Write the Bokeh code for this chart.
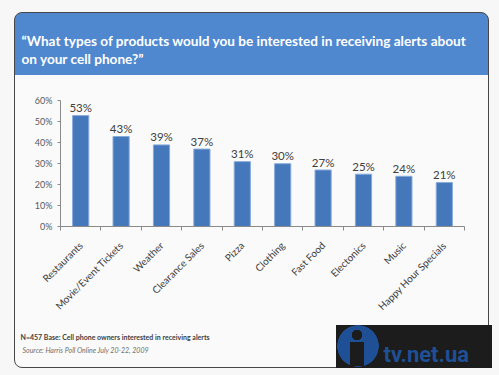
from bokeh.plotting import figure
from bokeh.models import (Range1d, FixedTicker, NumeralTickFormatter, Label, ColumnDataSource)
from bokeh.core.properties import value
from bokeh.embed import file_html
from bokeh.resources import INLINE
import math

categories = ["Restaurants", "Movie/Event Tickets", "Weather", "Clearance Sales", "Pizza",
              "Clothing", "Fast Food", "Electonics", "Music", "Happy Hour Specials"]
shares = [0.53, 0.43, 0.39, 0.37, 0.31, 0.30, 0.27, 0.25, 0.24, 0.21]
share_labels = ["53%", "43%", "39%", "37%", "31%", "30%", "27%", "25%", "24%", "21%"]
y_ticks = [0, 0.1, 0.2, 0.3, 0.4, 0.5, 0.6]
title_lines = ["\u201cWhat types of products would you be interested in receiving alerts about",
               "on your cell phone?\u201d"]
note_text = "N=457 Base: Cell phone owners interested in  receiving alerts"
source_text = "Source: Harris Poll Online July 20-22, 2009"
logo_text = "tv.net.ua"

FONT = "Lato"

centers = [i + 0.5 for i in range(len(categories))]
src = ColumnDataSource(dict(x=centers, top=shares, lab=share_labels))

p = figure(width=499, height=375, output_backend="svg", toolbar_location=None,
           x_range=Range1d(0, len(categories)), y_range=Range1d(0, 0.65),
           min_border_left=60, min_border_right=35, min_border_top=90, min_border_bottom=149,
           background_fill_alpha=0, border_fill_alpha=0, outline_line_color=None)
p.grid.visible = False

css = """
:host { isolation: isolate; background: #f7f7f7; }
:host::before {
  content: ""; position: absolute; left: 14px; top: 12px; width: 475px; height: 356px;
  box-sizing: border-box; border: 1.5px solid #474747; border-radius: 8px;
  background: linear-gradient(#4f88cf, #4f88cf) 0 0 / 100% 62px no-repeat, #fafafa;
  z-index: -1;
}
:host::after {
  content: ""; position: absolute; left: 336px; top: 325px; width: 156px; height: 43px;
  background:
    radial-gradient(circle at 21px 10px, #1c1c1c 0 5px, transparent 5.5px),
    linear-gradient(#1c1c1c, #1c1c1c) 14px 17px / 14px 24px no-repeat,
    radial-gradient(circle at 22px 21px, #1f4f94 0 20.5px, transparent 21px),
    #1c1c1c;
  z-index: -1;
}
"""
p.stylesheets = [css]

p.vbar(x="x", top="top", width=0.4, source=src, fill_color="#4577bb",
       line_color="#86aadb", line_width=1)
p.text(x="x", y="top", text="lab", source=src, text_align="center",
       text_baseline="alphabetic", y_offset=-8, text_font=value(FONT),
       text_font_size="11.5px", text_color="#404040")

ya = p.yaxis[0]
ya.ticker = FixedTicker(ticks=y_ticks)
ya.formatter = NumeralTickFormatter(format="0%")
ya.bounds = (0, 0.6)
ya.axis_line_color = "#8a8a8a"
ya.major_tick_line_color = "#8a8a8a"
ya.major_tick_out = 3
ya.major_tick_in = 0
ya.minor_tick_line_color = None
ya.major_label_text_font = FONT
ya.major_label_text_font_size = "9px"
ya.major_label_text_color = "#595959"
ya.major_label_standoff = 5

xa = p.xaxis[0]
xa.ticker = FixedTicker(ticks=centers, minor_ticks=list(range(len(categories) + 1)))
xa.major_label_overrides = {c: n for c, n in zip(centers, categories)}
xa.major_label_orientation = math.pi / 4
xa.axis_line_color = "#8a8a8a"
xa.major_tick_line_color = None
xa.minor_tick_line_color = "#8a8a8a"
xa.minor_tick_out = 4
xa.minor_tick_in = 0
xa.major_label_text_font = FONT
xa.major_label_text_font_size = "10px"
xa.major_label_text_color = "#404040"
xa.major_label_standoff = 11

def canvas_label(place, x, y, text, size, color, style="normal", font=FONT):
    p.add_layout(Label(x=x, y=y, x_units="canvas", y_units="canvas", text=text,
                       text_font=font, text_font_size=size, text_color=color,
                       text_font_style=style, text_baseline="alphabetic",
                       text_align="left"), place)

canvas_label("above", 21, 40, title_lines[0], "13.6px", "white", "bold")
canvas_label("above", 21, 58, title_lines[1], "13.6px", "white", "bold")
canvas_label("below", 20, 336, note_text, "7px", "#404040", "bold")
canvas_label("below", 22, 349, source_text, "7px", "#707070", "italic")
canvas_label("below", 383, 354, logo_text, "22px", "#1f4f94", "bold", "Roboto")

open("out.html", "w").write(file_html(p, INLINE))
